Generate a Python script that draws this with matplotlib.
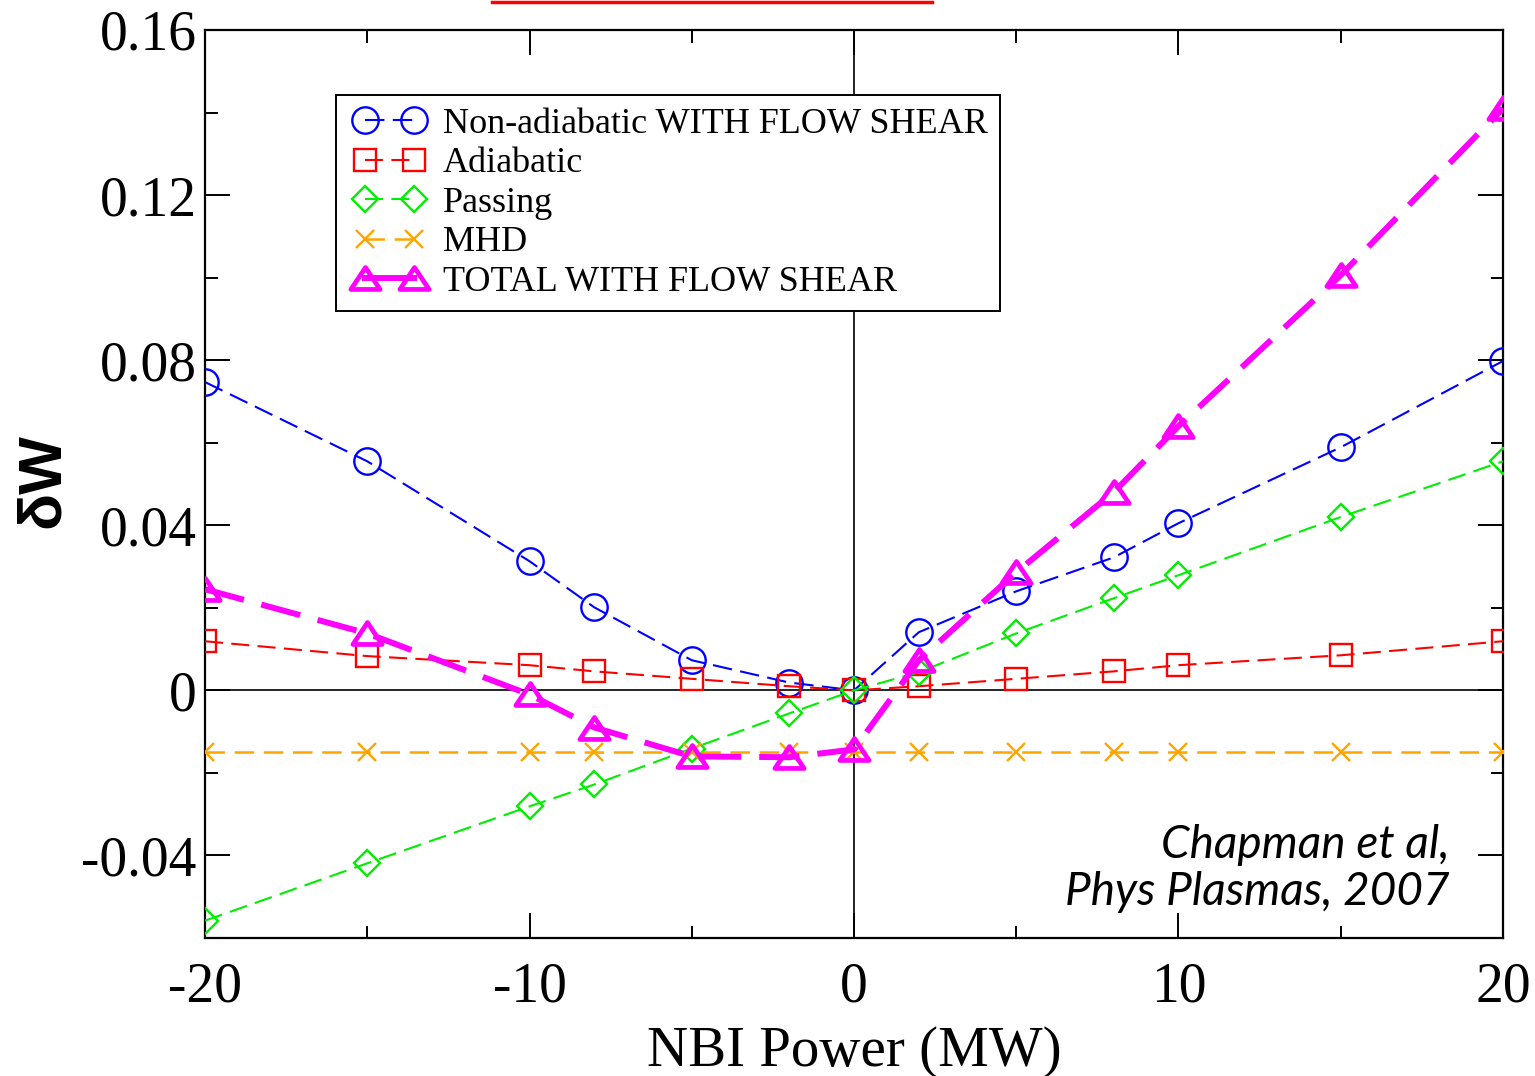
import matplotlib
matplotlib.use("Agg")
import matplotlib.pyplot as plt
from matplotlib.lines import Line2D
from matplotlib.path import Path
from matplotlib.legend_handler import HandlerLine2D
from matplotlib.ticker import MultipleLocator, FixedLocator, FixedFormatter

plt.rcParams['lines.scale_dashes'] = False

# ---- data ----
nbi_power = [-20, -15, -10, -8, -5, -2, 0, 2, 5, 8, 10, 15, 20]
non_adiabatic = [0.0747, 0.0555, 0.0313, 0.0201, 0.0073, 0.0019, 0.0, 0.0141, 0.0240, 0.0322, 0.0405, 0.0589, 0.0798]
adiabatic = [0.0119, 0.0083, 0.0061, 0.0046, 0.0028, 0.0010, 0.0, 0.0010, 0.0028, 0.0046, 0.0061, 0.0085, 0.0119]
passing = [-0.0558, -0.0419, -0.0281, -0.0228, -0.0141, -0.0056, 0.0, 0.0044, 0.0138, 0.0223, 0.0279, 0.0420, 0.0555]
mhd = [-0.015] * 13
total = [0.0245, 0.0138, -0.0010, -0.0090, -0.0160, -0.0162, -0.0143, 0.0073, 0.0286, 0.0480, 0.0640, 0.1006, 0.1410]

labels = ["Non-adiabatic WITH FLOW SHEAR", "Adiabatic", "Passing", "MHD", "TOTAL WITH FLOW SHEAR"]
xticks = [-20, -10, 0, 10, 20]
xticklabels = ["-20", "-10", "0", "10", "20"]
yticks = [-0.04, 0, 0.04, 0.08, 0.12, 0.16]
yticklabels = ["-0.04", "0", "0.04", "0.08", "0.12", "0.16"]

W, H = 1535, 1076
fig = plt.figure(figsize=(W / 100, H / 100), dpi=100)
ax = fig.add_axes([205 / W, 1 - 938 / H, (1503 - 205) / W, (938 - 30) / H])

serif = "Liberation Serif"

ax.axhline(0, color="black", lw=1.2, zorder=1)
ax.axvline(0, color="black", lw=1.2, zorder=1)

tri = Path([(0, 0.75), (-1, -0.75), (1, -0.75), (0, 0.75)],
           [Path.MOVETO, Path.LINETO, Path.LINETO, Path.CLOSEPOLY])

l1, = ax.plot(nbi_power, non_adiabatic, color="#0000ff", lw=1.5, marker="o", ms=19,
              mfc="none", mec="#0000ff", mew=1.7, dashes=(14, 6), zorder=3)
l2, = ax.plot(nbi_power, adiabatic, color="#ff0000", lw=1.5, marker="s", ms=16,
              mfc="none", mec="#ff0000", mew=1.7, dashes=(13, 6), zorder=3)
l3, = ax.plot(nbi_power, passing, color="#00ee00", lw=1.5, marker="D", ms=13.5,
              mfc="none", mec="#00ee00", mew=1.7, dashes=(13, 6), zorder=3)
l4, = ax.plot(nbi_power, mhd, color="#ffa500", lw=1.8, marker="x", ms=13,
              mec="#ffa500", mew=1.7, dashes=(14, 7), zorder=3)
l5, = ax.plot(nbi_power, total, color="#ff00ff", lw=4.3, marker=tri, ms=21,
              mfc="none", mec="#ff00ff", mew=3.4, dashes=(29, 13), zorder=4)

ax.set_xlim(-20, 20)
ax.set_ylim(-0.06, 0.16)

ax.xaxis.set_major_locator(FixedLocator(xticks))
ax.xaxis.set_major_formatter(FixedFormatter(xticklabels))
ax.xaxis.set_minor_locator(MultipleLocator(5))
ax.yaxis.set_major_locator(FixedLocator(yticks))
ax.yaxis.set_major_formatter(FixedFormatter(yticklabels))
ax.yaxis.set_minor_locator(MultipleLocator(0.02))

ax.tick_params(which="both", direction="in", top=True, right=True, width=1.4, color="black")
ax.tick_params(which="major", length=18)
ax.tick_params(which="minor", length=9)
for lab in ax.get_xticklabels() + ax.get_yticklabels():
    lab.set_fontfamily(serif)
    lab.set_fontsize(40)
ax.tick_params(axis="y", which="major", pad=6)
ax.tick_params(axis="x", which="major", pad=17)

for s in ax.spines.values():
    s.set_linewidth(1.6)

ax.set_xlabel("NBI Power (MW)", fontfamily=serif, fontsize=41, labelpad=9)
fig.text(43 / W, 1 - 481 / H, "δW", rotation=90, fontfamily="Liberation Sans",
         fontweight="bold", fontsize=44, ha="center", va="center")

leg = ax.legend([l1, l2, l3, l4, l5], labels, loc="upper left",
                bbox_to_anchor=(336 / W, 1 - 95 / H), bbox_transform=fig.transFigure,
                borderaxespad=0, prop={"family": serif, "size": 26},
                handler_map={Line2D: HandlerLine2D(marker_pad=0.45, numpoints=2)},
                fancybox=False, framealpha=1, edgecolor="black", handlelength=2.27,
                handletextpad=0.33, labelspacing=0.17, borderpad=0.35)
leg.get_frame().set_linewidth(1.4)
leg.get_lines()[4].set_linestyle("-")

ax.text(0.959, 0.027, "Chapman et al,\nPhys Plasmas, 2007", transform=ax.transAxes,
        ha="right", va="bottom", fontfamily="Lato", style="italic", fontweight="normal",
        fontsize=33, linespacing=1.15, color="black")

fig.add_artist(Line2D([492 / W, 932 / W], [1 - 1.5 / H, 1 - 1.5 / H], color="red", lw=2.5))

fig.savefig("out.png", dpi=100)
